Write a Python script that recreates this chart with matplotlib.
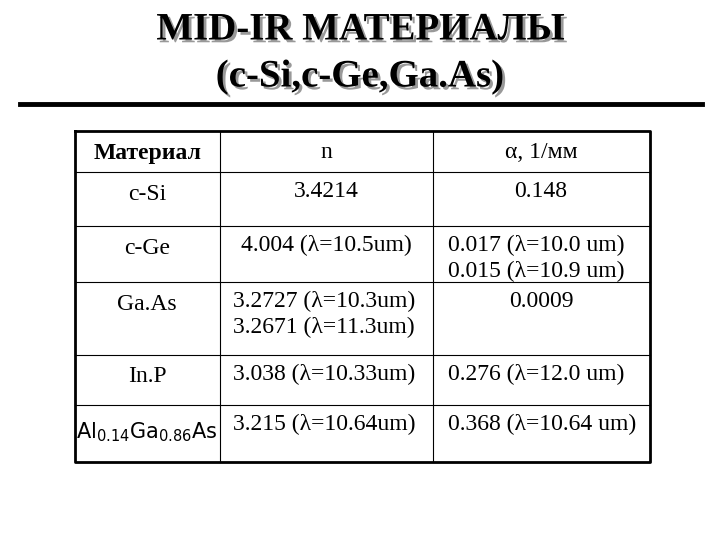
import matplotlib.pyplot as plt
import matplotlib.patheffects as pe

title = ["MID-IR МАТЕРИАЛЫ", "(c-Si,c-Ge,Ga.As)"]
headers = ["Материал", "n", "α, 1/мм"]
materials = ["c-Si", "c-Ge", "Ga.As", "In.P", r"Al$_{0.14}$Ga$_{0.86}$As"]
n_vals = ["3.4214", "4.004 (λ=10.5um)", "3.2727 (λ=10.3um)\n3.2671 (λ=11.3um)",
          "3.038 (λ=10.33um)", "3.215 (λ=10.64um)"]
alpha_vals = ["0.148", "0.017 (λ=10.0 um)\n0.015 (λ=10.9 um)", "0.0009",
              "0.276 (λ=12.0 um)", "0.368 (λ=10.64 um)"]

plt.rcParams['font.family'] = ['Liberation Serif', 'DejaVu Serif']
fig = plt.figure(figsize=(7.2, 5.4), dpi=100)
ax = fig.add_axes([0, 0, 1, 1])
ax.set_xlim(0, 720)
ax.set_ylim(540, 0)
ax.axis('off')

shadow = [pe.withSimplePatchShadow(offset=(2, -2), shadow_rgbFace='#999999', alpha=1)]
for i, t in enumerate(title):
    ax.text(360, 30 + 47 * i, t, ha='center', va='center', fontsize=28, fontweight='bold',
            path_effects=shadow)
ax.plot([20, 702], [104, 104], color='black', lw=3.5)

xs = [75, 220, 433, 650]
ys = [131, 172, 226, 282, 355, 405, 462]
ax.plot([xs[0], xs[-1], xs[-1], xs[0], xs[0]], [ys[0], ys[0], ys[-1], ys[-1], ys[0]], color='black', lw=2)
for x in xs[1:-1]:
    ax.plot([x, x], [ys[0], ys[-1]], color='black', lw=0.8)
for y in ys[1:-1]:
    ax.plot([xs[0], xs[-1]], [y, y], color='black', lw=0.8)

fs = 17
for j, h in enumerate(headers):
    ax.text((xs[j] + xs[j + 1]) / 2, 153, h, ha='center', va='center', fontsize=fs,
            fontweight='bold' if j == 0 else 'normal')

for i in range(len(materials)):
    top = ys[i + 1]
    if i < 4:
        ax.text(147, top + 22, materials[i], ha='center', va='center', fontsize=fs)
    else:
        ax.text(147, top + 27, materials[i], ha='center', va='center', fontsize=15, family='DejaVu Sans')
    xn = 326 if i < 2 else 233
    ha = 'center' if i < 2 else 'left'
    ax.text(xn, top + 9, n_vals[i], ha=ha, va='top', fontsize=fs, linespacing=1.3)
    xa = 541 if i in (0, 2) else 448
    ha = 'center' if i in (0, 2) else 'left'
    ax.text(xa, top + 9, alpha_vals[i], ha=ha, va='top', fontsize=fs, linespacing=1.3)

fig.savefig('out.png', dpi=100)
